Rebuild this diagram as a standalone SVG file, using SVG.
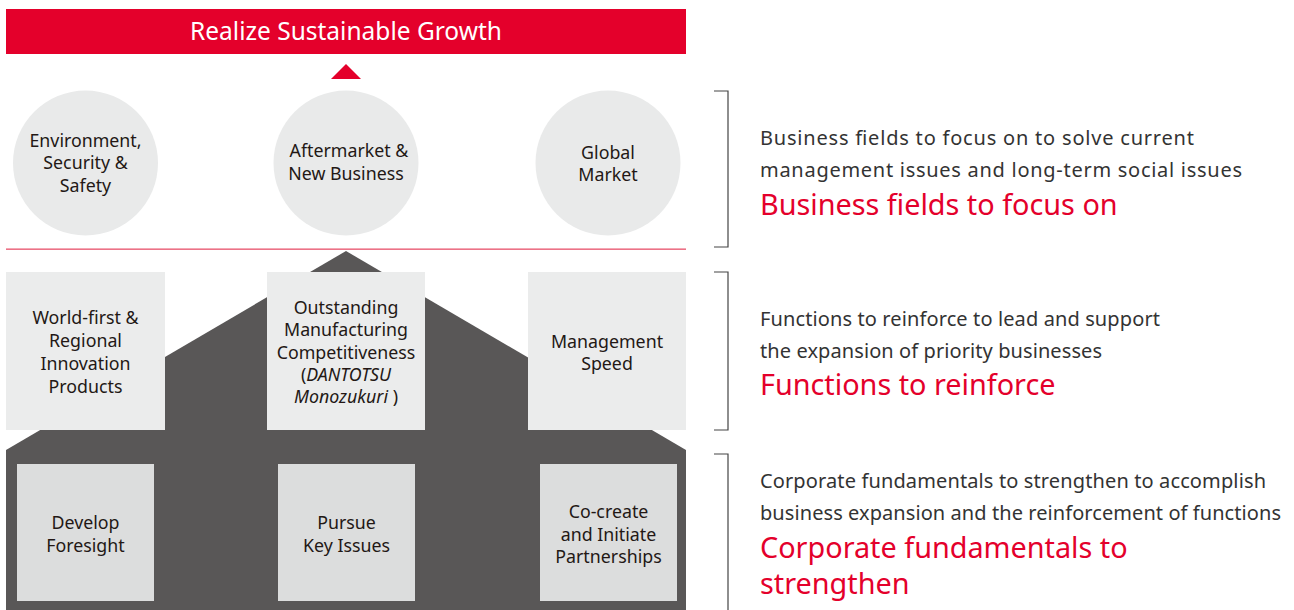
<svg xmlns="http://www.w3.org/2000/svg" width="1294" height="610" viewBox="0 0 1294 610">
<style>
.lbl{font-family:"Noto Sans","Liberation Sans",sans-serif;font-size:17.8px;fill:#231815;text-anchor:middle}
.desc{font-family:"Noto Sans","Liberation Sans",sans-serif;font-size:20px;fill:#333}
.head{font-family:"Noto Sans","Liberation Sans",sans-serif;font-size:28.8px;fill:#e4002b}
.circ{fill:#e9eaea}
.box1{fill:#ebecec}
.box2{fill:#dcdddd}
.brk{fill:none;stroke:#444;stroke-width:1.2}
</style>
<rect x="0" y="0" width="1294" height="610" fill="#fff"/>
<g id="growth">
<rect x="6" y="9" width="680" height="45" fill="#e4002b"/>
<text x="346" y="40" font-family="Noto Sans, Liberation Sans, sans-serif" font-size="24.5" fill="#fff" text-anchor="middle">Realize Sustainable Growth</text>
</g>
<g id="connectors">
<polygon points="346,64 361,79 331,79" fill="#e4002b"/>
<rect x="6" y="248.5" width="680" height="1.3" fill="#e8506a"/>
</g>
<g id="house">
<polygon points="346,251 686,450 686,610 6,610 6,450" fill="#595757"/>
</g>
<g id="env">
<circle class="circ" cx="85.5" cy="163" r="72.5"/>
<text class="lbl" x="85.5" y="147">Environment,</text>
<text class="lbl" x="85.5" y="169">Security &amp;</text>
<text class="lbl" x="85.5" y="192">Safety</text>
</g>
<g id="aftermarket">
<circle class="circ" cx="346" cy="163" r="72.5"/>
<text class="lbl" x="349" y="157">Aftermarket &amp;</text>
<text class="lbl" x="346" y="180">New Business</text>
</g>
<g id="global">
<circle class="circ" cx="608" cy="163" r="72.5"/>
<text class="lbl" x="608" y="159">Global</text>
<text class="lbl" x="608" y="181">Market</text>
</g>
<g id="worldfirst">
<rect class="box1" x="6" y="272" width="159" height="158"/>
<text class="lbl" x="85.5" y="324">World-first &amp;</text>
<text class="lbl" x="85.5" y="347">Regional</text>
<text class="lbl" x="85.5" y="370">Innovation</text>
<text class="lbl" x="85.5" y="393">Products</text>
</g>
<g id="manufacturing">
<rect class="box1" x="267" y="272" width="158" height="158"/>
<text class="lbl" x="346" y="314">Outstanding</text>
<text class="lbl" x="346" y="336">Manufacturing</text>
<text class="lbl" x="346" y="359">Competitiveness</text>
<text class="lbl" x="346" y="381">(<tspan font-style="italic">DANTOTSU</tspan></text>
<text class="lbl" x="346" y="403"><tspan font-style="italic">Monozukuri</tspan> )</text>
</g>
<g id="speed">
<rect class="box1" x="528" y="272" width="158" height="158"/>
<text class="lbl" x="607" y="348">Management</text>
<text class="lbl" x="607" y="370">Speed</text>
</g>
<g id="foresight">
<rect class="box2" x="17" y="464" width="137" height="137"/>
<text class="lbl" x="85.5" y="529">Develop</text>
<text class="lbl" x="85.5" y="552">Foresight</text>
</g>
<g id="keyissues">
<rect class="box2" x="278" y="464" width="137" height="137"/>
<text class="lbl" x="346.5" y="529">Pursue</text>
<text class="lbl" x="346.5" y="552">Key Issues</text>
</g>
<g id="partnerships">
<rect class="box2" x="540" y="464" width="137" height="137"/>
<text class="lbl" x="608.5" y="518">Co-create</text>
<text class="lbl" x="608.5" y="541">and Initiate</text>
<text class="lbl" x="608.5" y="563">Partnerships</text>
</g>
<g id="desc1">
<path class="brk" d="M714,91 H728 V247 H714"/>
<text class="desc" x="760" y="145" textLength="434" lengthAdjust="spacing">Business fields to focus on to solve current</text>
<text class="desc" x="760" y="177" textLength="482" lengthAdjust="spacing">management issues and long-term social issues</text>
<text class="head" x="760" y="215">Business fields to focus on</text>
</g>
<g id="desc2">
<path class="brk" d="M714,272 H728 V430 H714"/>
<text class="desc" x="760" y="326" textLength="400" lengthAdjust="spacing">Functions to reinforce to lead and support</text>
<text class="desc" x="760" y="358" textLength="342" lengthAdjust="spacing">the expansion of priority businesses</text>
<text class="head" x="760" y="395">Functions to reinforce</text>
</g>
<g id="desc3">
<path class="brk" d="M714,454 H728 V612"/>
<text class="desc" x="760" y="488" textLength="506" lengthAdjust="spacing">Corporate fundamentals to strengthen to accomplish</text>
<text class="desc" x="760" y="520" textLength="521" lengthAdjust="spacing">business expansion and the reinforcement of functions</text>
<text class="head" x="760" y="558">Corporate fundamentals to</text>
<text class="head" x="760" y="594">strengthen</text>
</g>
</svg>
